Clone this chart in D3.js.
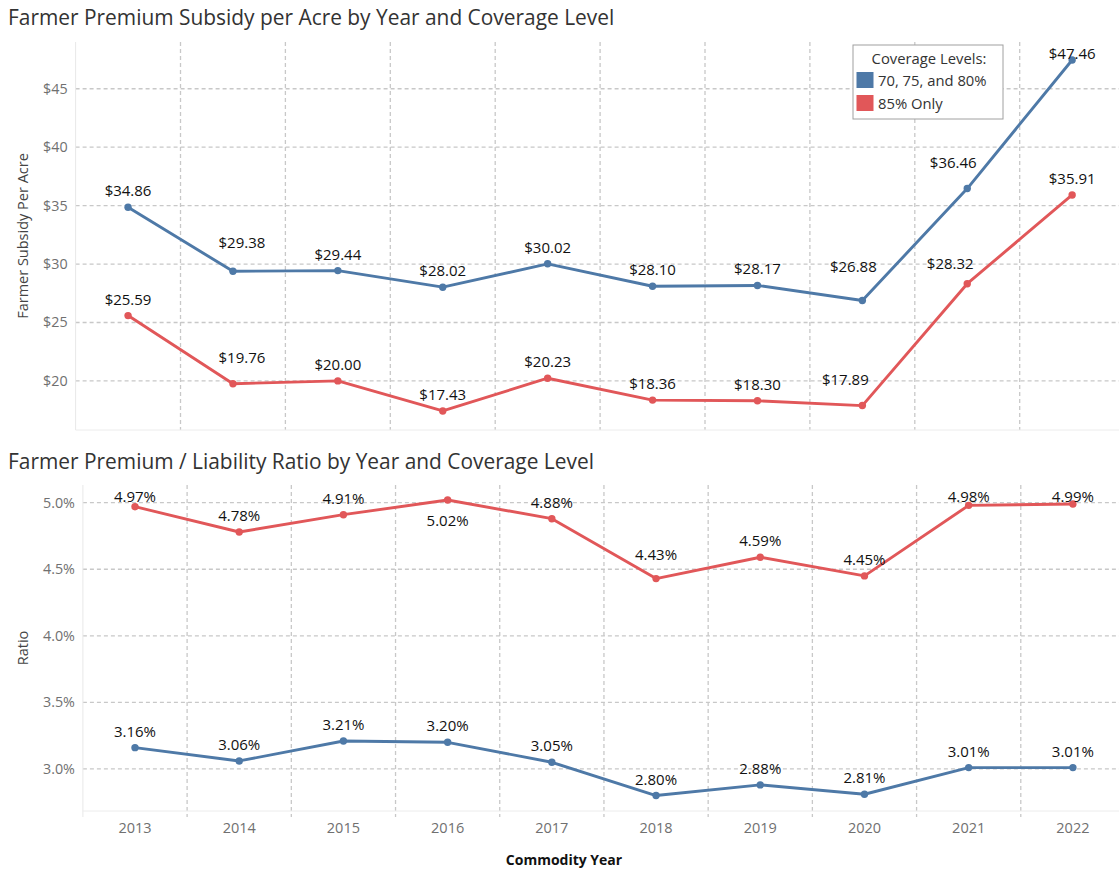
<!DOCTYPE html>
<html>
<head>
<meta charset="utf-8">
<script src="https://cdn.jsdelivr.net/npm/d3@7"></script>
<style>
    body { margin: 0; background: #fff; }
    svg { display: block; font-family: "Open Sans", sans-serif; }
</style>
</head>
<body>
<svg id="chart" width="1119" height="869"></svg>
<script>
// data
const years = ["2013", "2014", "2015", "2016", "2017", "2018", "2019", "2020", "2021", "2022"];
const subsidyLow = [34.86, 29.38, 29.44, 28.02, 30.02, 28.10, 28.17, 26.88, 36.46, 47.46];   // 70, 75, and 80%
const subsidyHigh = [25.59, 19.76, 20.00, 17.43, 20.23, 18.36, 18.30, 17.89, 28.32, 35.91];  // 85% only
const ratioLow = [3.16, 3.06, 3.21, 3.20, 3.05, 2.80, 2.88, 2.81, 3.01, 3.01];
const ratioHigh = [4.97, 4.78, 4.91, 5.02, 4.88, 4.43, 4.59, 4.45, 4.98, 4.99];
const subsidyTicks = [20, 25, 30, 35, 40, 45];
const ratioTicks = [3.0, 3.5, 4.0, 4.5, 5.0];
const legendLabels = ["70, 75, and 80%", "85% Only"];

const BLUE = "#4e79a7", RED = "#e15759";
const svg = d3.select("#chart");

// label nudges (Tableau moved these off the lines): [dx, dy]
const nudges = {
    "subLow|2014": [9, -12], "subLow|2020": [-9, -18], "subLow|2021": [-14, -10],
    "subHigh|2014": [9, -10], "subHigh|2020": [-17, -10], "subHigh|2021": [-17, -4],
    "ratHigh|2016": [0, 37], "ratHigh|2018": [0, -8]
};

function drawPanel(opts) {
    const g = svg.append("g");
    const x = d3.scaleBand().domain(years).range(opts.xRange);
    const y = d3.scaleLinear().domain(opts.yDomain).range([opts.bottom, opts.top]);
    const cx = (yr) => x(yr) + x.bandwidth() / 2;

    // title
    svg.append("text")
        .attr("x", 8).attr("y", opts.titleY)
        .attr("font-size", "20.9px").attr("fill", "#333")
        .text(opts.title);

    // horizontal grid
    g.selectAll(".hgrid").data(opts.ticks).enter().append("line")
        .attr("x1", opts.xRange[0]).attr("x2", 1119)
        .attr("y1", (d) => y(d)).attr("y2", (d) => y(d))
        .attr("stroke", "#c8c8c8").attr("stroke-width", 1.3)
        .attr("stroke-dasharray", "4,3");

    // vertical grid between years
    g.selectAll(".vgrid").data(years.slice(1)).enter().append("line")
        .attr("x1", (d) => x(d)).attr("x2", (d) => x(d))
        .attr("y1", opts.top).attr("y2", opts.bottom + opts.vExtend)
        .attr("stroke", "#c8c8c8").attr("stroke-width", 1.3)
        .attr("stroke-dasharray", "4,3");

    // pane borders
    g.append("line")
        .attr("x1", opts.xRange[0]).attr("x2", opts.xRange[0])
        .attr("y1", opts.top).attr("y2", opts.bottom + opts.vExtend)
        .attr("stroke", "#e8e8e8");
    g.append("line")
        .attr("x1", opts.xRange[0]).attr("x2", 1119)
        .attr("y1", opts.bottom).attr("y2", opts.bottom)
        .attr("stroke", "#ececec");

    // y tick labels
    g.selectAll(".ylab").data(opts.ticks).enter().append("text")
        .attr("x", opts.xRange[0] - 8).attr("y", (d) => y(d) + 5)
        .attr("text-anchor", "end").attr("font-size", "14.3px").attr("fill", "#707070")
        .text(opts.tickFormat);

    // y axis title
    svg.append("text")
        .attr("transform", `translate(28,${(opts.top + opts.bottom) / 2}) rotate(-90)`)
        .attr("text-anchor", "middle").attr("font-size", "14.5px").attr("fill", "#444")
        .text(opts.yTitle);

    const line = d3.line().x((d, i) => cx(years[i])).y((d) => y(d));

    opts.series.forEach((s) => {
        g.append("path")
            .datum(s.values)
            .attr("d", line)
            .attr("fill", "none")
            .attr("stroke", s.color)
            .attr("stroke-width", 2.9)
            .attr("stroke-linejoin", "round");
        g.selectAll(null).data(s.values).enter().append("circle")
            .attr("cx", (d, i) => cx(years[i]))
            .attr("cy", (d) => y(d))
            .attr("r", 3.7)
            .attr("fill", s.color);
        g.selectAll(null).data(s.values).enter().append("text")
            .attr("x", (d, i) => cx(years[i]) + (nudges[s.key + "|" + years[i]] || [0, 0])[0])
            .attr("y", (d, i) => {
                const n = nudges[s.key + "|" + years[i]] || [0, 0];
                return Math.max(y(d) - 11 + n[1], opts.top + 17);
            })
            .attr("text-anchor", "middle")
            .attr("font-size", "15px").attr("fill", "#111")
            .text(s.format);
    });
    return x;
}

drawPanel({
    title: "Farmer Premium Subsidy per Acre by Year and Coverage Level",
    titleY: 25,
    xRange: [75.6, 1124.6],
    yDomain: [15.8, 49],
    top: 42, bottom: 430, vExtend: 0,
    ticks: subsidyTicks,
    tickFormat: (d) => "$" + d,
    yTitle: "Farmer Subsidy Per Acre",
    series: [
        { key: "subLow", values: subsidyLow, color: BLUE, format: (d) => "$" + d.toFixed(2) },
        { key: "subHigh", values: subsidyHigh, color: RED, format: (d) => "$" + d.toFixed(2) }
    ]
});

const xBottom = drawPanel({
    title: "Farmer Premium / Liability Ratio by Year and Coverage Level",
    titleY: 469,
    xRange: [82.9, 1125],
    yDomain: [2.684, 5.133],
    top: 485, bottom: 811, vExtend: 6,
    ticks: ratioTicks,
    tickFormat: (d) => d.toFixed(1) + "%",
    yTitle: "Ratio",
    series: [
        { key: "ratHigh", values: ratioHigh, color: RED, format: (d) => d.toFixed(2) + "%" },
        { key: "ratLow", values: ratioLow, color: BLUE, format: (d) => d.toFixed(2) + "%" }
    ]
});

// x axis labels
svg.selectAll(".xlab").data(years).enter().append("text")
    .attr("x", (d) => xBottom(d) + xBottom.bandwidth() / 2)
    .attr("y", 833)
    .attr("text-anchor", "middle").attr("font-size", "14.5px").attr("fill", "#707070")
    .text((d) => d);

svg.append("text")
    .attr("x", 564).attr("y", 865)
    .attr("text-anchor", "middle").attr("font-size", "14px")
    .attr("font-weight", "bold").attr("fill", "#111")
    .text("Commodity Year");

// legend
const legend = svg.append("g").attr("transform", "translate(853,45)");
legend.append("rect")
    .attr("width", 150).attr("height", 74)
    .attr("fill", "#fff").attr("stroke", "#a0a0a0");
legend.append("text")
    .attr("x", 76).attr("y", 19)
    .attr("text-anchor", "middle").attr("font-size", "14.8px").attr("fill", "#333")
    .text("Coverage Levels:");
legend.selectAll(".item").data(legendLabels).enter().append("g")
    .each(function (d, i) {
        const item = d3.select(this).attr("transform", `translate(3.5,${27 + i * 23})`);
        item.append("rect").attr("width", 17).attr("height", 16)
            .attr("fill", i === 0 ? BLUE : RED);
        item.append("text").attr("x", 21.5).attr("y", 13.5)
            .attr("font-size", "14.8px").attr("fill", "#333")
            .text(d);
    });
</script>
</body>
</html>
